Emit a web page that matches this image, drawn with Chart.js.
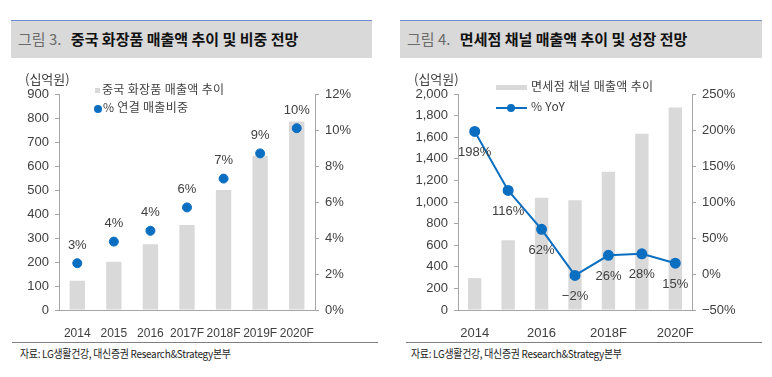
<!DOCTYPE html>
<html>
<head>
<meta charset="utf-8">
<script src="https://cdn.jsdelivr.net/npm/chart.js@4.4.0/dist/chart.umd.min.js"></script>
<style>
  body { margin: 0; width: 772px; height: 377px; background: #fff; position: relative; overflow: hidden; font-family: "Liberation Sans", Arial, sans-serif; }
  .title { position: absolute; top: 20px; height: 38px; background: #d9d9d9; border-top: 1px solid #6f8fcf; box-sizing: border-box; font-family: "Noto Sans CJK KR", sans-serif; font-size: 15px; line-height: 36px; padding-left: 7px; white-space: nowrap; }
  .title .num { color: #6b6b6b; margin-right: 6px; }
  .title b { color: #111; }
  .box { position: absolute; top: 60px; width: 386px; height: 278px; }
  .unit { position: absolute; font-family: "Noto Sans CJK KR", sans-serif; font-size: 13px; color: #404040; line-height: 14px; }
  .leg { position: absolute; font-family: "Noto Sans CJK KR", sans-serif; font-size: 12px; color: #404040; line-height: 14px; white-space: nowrap; letter-spacing: 0.3px; }
  .rule { position: absolute; top: 342px; height: 0; border-top: 1px solid #808080; }
  .src { position: absolute; top: 345px; font-family: "Noto Sans CJK KR", sans-serif; font-size: 11px; color: #222; transform: scaleX(0.9); transform-origin: left center; white-space: nowrap; letter-spacing: -0.3px; }
</style>
</head>
<body>
<div class="title" style="left:11px;width:361px"><span class="num">그림 3.</span> <b>중국 화장품 매출액 추이 및 비중 전망</b></div>
<div class="title" style="left:400px;width:362px"><span class="num">그림 4.</span> <b>면세점 채널 매출액 추이 및 성장 전망</b></div>

<div class="box" style="left:0"><canvas id="chinaChart" width="386" height="278"></canvas></div>
<div class="box" style="left:386px"><canvas id="dutyChart" width="386" height="278"></canvas></div>

<div class="unit" style="left:25px;top:72px">(십억원)</div>
<div class="unit" style="left:414px;top:72px">(십억원)</div>

<div class="leg" style="left:95px;top:82px"><span style="display:inline-block;width:5px;height:5px;background:#d9d9d9;margin-right:2px;vertical-align:middle"></span>중국 화장품 매출액 추이</div>
<div class="leg" style="left:94px;top:100px"><span style="display:inline-block;width:8px;height:8px;border-radius:50%;background:#0b6fc1;margin-right:1px;vertical-align:middle"></span>% 연결 매출비중</div>

<div class="leg" style="left:496px;top:79px"><span style="display:inline-block;width:31px;height:5px;background:#d9d9d9;margin-right:4px;vertical-align:middle"></span>면세점 채널 매출액 추이</div>
<div class="leg" style="left:496px;top:99px"><span style="display:inline-block;position:relative;width:31px;height:8px;margin-right:4px;vertical-align:middle"><span style="position:absolute;left:0;top:3px;width:31px;height:2px;background:#0b6fc1"></span><span style="position:absolute;left:11px;top:0;width:8px;height:8px;border-radius:50%;background:#0b6fc1"></span></span>% YoY</div>

<div class="rule" style="left:12px;width:366px"></div>
<div class="rule" style="left:406px;width:356px"></div>
<div class="src" style="left:20px">자료: LG생활건강, 대신증권 Research&amp;Strategy본부</div>
<div class="src" style="left:411px">자료: LG생활건강, 대신증권 Research&amp;Strategy본부</div>

<script>
// 그림 3 - 중국 화장품 매출액 (십억원) and 연결 매출비중 (%)
const chinaYears = ['2014', '2015', '2016', '2017F', '2018F', '2019F', '2020F'];
const chinaSales = [122, 201, 274, 354, 500, 643, 785];
const chinaShare = [2.6, 3.8, 4.4, 5.7, 7.3, 8.7, 10.1];

// 그림 4 - 면세점 채널 매출액 (십억원) and YoY (%)
const dutyYears = ['2014', '2015', '2016', '2017', '2018F', '2019F', '2020F'];
const dutySales = [295, 646, 1040, 1016, 1279, 1633, 1876];
const dutyYoY = [198, 116, 62, -2, 26, 28, 15];

const BAR = '#d9d9d9';
const BLUE = '#0b6fc1';
const AXIS = '#a6a6a6';
const TEXT = '#404040';
const FONT = { family: '"Liberation Sans", Arial, sans-serif', size: 13 };

const fmtPct = v => (v < 0 ? '\u2212' + Math.abs(v) : v) + '%';

// draws a text label next to each point of one dataset
const pointLabels = {
    id: 'pointLabels',
    afterDatasetsDraw(chart, args, opts) {
        const meta = chart.getDatasetMeta(opts.index);
        const values = chart.data.datasets[opts.index].data;
        const ctx = chart.ctx;
        ctx.save();
        ctx.font = '13px "Liberation Sans", Arial, sans-serif';
        ctx.fillStyle = TEXT;
        ctx.textAlign = 'center';
        ctx.textBaseline = 'middle';
        meta.data.forEach((pt, i) => {
            ctx.fillText(fmtPct(Math.round(values[i])), pt.x, pt.y + opts.dy);
        });
        ctx.restore();
    }
};

function yAxis(pos, min, max, step, width, cb) {
    return {
        position: pos,
        min: min, max: max,
        afterFit: s => { s.width = width; },
        border: { display: true, color: AXIS },
        grid: { drawOnChartArea: false, drawTicks: true, tickLength: 4, color: AXIS },
        ticks: { stepSize: step, padding: 6, color: TEXT, font: FONT, callback: cb }
    };
}

function xAxis(size, cb) {
    return {
        offset: true,
        afterFit: s => { s.height = 28; },
        border: { display: true, color: AXIS },
        grid: { display: false },
        ticks: { autoSkip: false, maxRotation: 0, padding: 8, color: TEXT,
                 font: { family: FONT.family, size: size }, callback: cb }
    };
}

new Chart(document.getElementById('chinaChart'), {
    type: 'bar',
    data: {
        labels: chinaYears,
        datasets: [
            { type: 'bar', data: chinaSales, backgroundColor: BAR, yAxisID: 'y', order: 1,
              categoryPercentage: 1, barPercentage: 0.42 },
            { type: 'line', data: chinaShare, yAxisID: 'y1', order: 0, showLine: false,
              pointRadius: 4.5, pointBackgroundColor: BLUE, pointBorderColor: BLUE }
        ]
    },
    options: {
        responsive: false,
        animation: false,
        layout: { padding: { top: 34, left: 0, right: 0, bottom: 0 } },
        plugins: { legend: { display: false }, tooltip: { enabled: false },
                   pointLabels: { index: 1, dy: -18 } },
        scales: {
            x: xAxis(12, function (v) { return this.getLabelForValue(v); }),
            y: yAxis('left', 0, 900, 100, 59, v => v),
            y1: yAxis('right', 0, 12, 2, 71, v => v + '%')
        }
    },
    plugins: [pointLabels]
});

new Chart(document.getElementById('dutyChart'), {
    type: 'bar',
    data: {
        labels: dutyYears,
        datasets: [
            { type: 'bar', data: dutySales, backgroundColor: BAR, yAxisID: 'y', order: 1,
              categoryPercentage: 1, barPercentage: 0.4 },
            { type: 'line', data: dutyYoY, yAxisID: 'y1', order: 0,
              borderColor: BLUE, borderWidth: 2, pointRadius: 4.5,
              pointBackgroundColor: BLUE, pointBorderColor: BLUE }
        ]
    },
    options: {
        responsive: false,
        animation: false,
        layout: { padding: { top: 34, left: 0, right: 0, bottom: 0 } },
        plugins: { legend: { display: false }, tooltip: { enabled: false },
                   pointLabels: { index: 1, dy: 21 } },
        scales: {
            x: xAxis(13, function (v, i) { return i % 2 === 0 ? this.getLabelForValue(v) : ''; }),
            y: yAxis('left', 0, 2000, 200, 72, v => v.toLocaleString('en-US')),
            y1: yAxis('right', -50, 250, 50, 80, fmtPct)
        }
    },
    plugins: [pointLabels]
});
</script>
</body>
</html>
